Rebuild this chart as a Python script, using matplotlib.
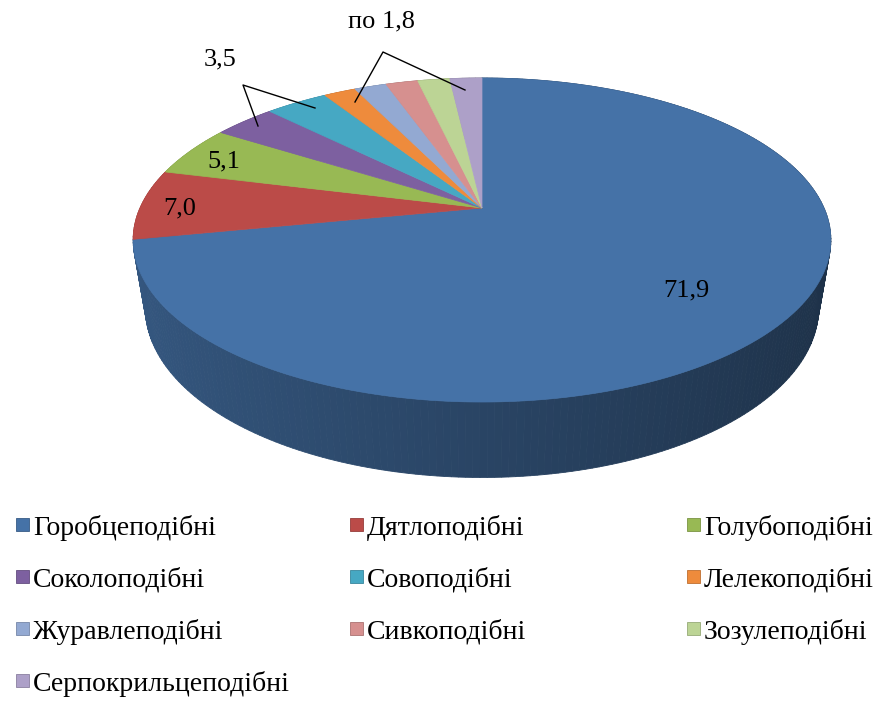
import numpy as np
import matplotlib
matplotlib.use("Agg")
import matplotlib.pyplot as plt
from matplotlib.patches import Polygon, Rectangle

# Частки рядів птахів, %
orders = ["Горобцеподібні", "Дятлоподібні", "Голубоподібні",
          "Соколоподібні", "Совоподібні", "Лелекоподібні",
          "Журавлеподібні", "Сивкоподібні", "Зозулеподібні",
          "Серпокрильцеподібні"]
shares = [71.9, 7.0, 5.1, 3.5, 3.5, 1.8, 1.8, 1.8, 1.8, 1.8]
colors = ["#4572A7", "#BB4B48", "#98B954", "#7D60A0", "#46A8C3",
          "#EE8B3C", "#93A9D2", "#D6908F", "#BCD495", "#ADA0C8"]

FONT = "Liberation Serif"

# параметри перспективної проекції (пікселі)
x0, y0 = 482, 208
a, b, k = 342.0, 155.7, 0.1975
e, m = 70.0, 0.035


def proj(u, v, z):
    w = 1 + k * v - m * z
    return x0 + a * u / w, y0 - (b * v + e * z) / w


def shade(c, f):
    rgb = np.array(matplotlib.colors.to_rgb(c))
    return tuple(np.clip(rgb * f, 0, 1))


fig = plt.figure(figsize=(8.79, 7.01), dpi=100)
ax = fig.add_axes([0, 0, 1, 1])
ax.set_xlim(0, 879)
ax.set_ylim(701, 0)
ax.axis("off")

fr = np.array(shares) / sum(shares)
bounds = np.concatenate([[0], np.cumsum(fr)]) * 2 * np.pi

# бічна стінка: смужки від дальніх до ближніх
strips = []
for i, c in enumerate(colors):
    t = np.linspace(bounds[i], bounds[i + 1], max(3, int(fr[i] * 360)))
    for t1, t2 in zip(t[:-1], t[1:]):
        tm = 0.5 * (t1 + t2)
        strips.append((np.cos(tm), t1, t2, c))
strips.sort(key=lambda s: -s[0])
for v_m, t1, t2, c in strips:
    pts = [proj(np.sin(t1), np.cos(t1), 0), proj(np.sin(t2), np.cos(t2), 0),
           proj(np.sin(t2), np.cos(t2), -1), proj(np.sin(t1), np.cos(t1), -1)]
    u_m = np.sin(0.5 * (t1 + t2))
    f = 0.60 - 0.17 * u_m
    ax.add_patch(Polygon(pts, closed=True, facecolor=shade(c, f),
                         edgecolor=shade(c, f), lw=0.6))

# верхня грань
for i, c in enumerate(colors):
    t = np.linspace(bounds[i], bounds[i + 1], max(4, int(fr[i] * 720)))
    pts = [proj(0, 0, 0)] + [proj(np.sin(tt), np.cos(tt), 0) for tt in t]
    ax.add_patch(Polygon(pts, closed=True, facecolor=c, edgecolor=c, lw=0.5))

# підписи значень
lab = dict(fontsize=19, family=FONT, ha="center", va="center", color="black")
ax.text(686, 290, "71,9", **lab)
ax.text(180, 208, "7,0", **lab)
ax.text(224, 161, "5,1", **lab)
ax.text(220, 59, "3,5", **lab)
ax.text(382, 21, "по 1,8", **lab)
ax.plot([258, 243, 315], [126, 85, 108], color="black", lw=1)
ax.plot([355, 383, 465], [102, 52, 90], color="black", lw=1)

# легенда
col_x = [16, 350, 687]
row_y = [535, 587, 639, 691]
for i, (name, c) in enumerate(zip(orders, colors)):
    cx, cy = col_x[i % 3], row_y[i // 3]
    ax.add_patch(Rectangle((cx, cy - 17), 13, 13, facecolor=c,
                           edgecolor=shade(c, 0.8), lw=0.6))
    ax.text(cx + 17, cy, name, fontsize=20, family=FONT, ha="left",
            va="baseline", color="black")

fig.savefig("out.png", dpi=100)
